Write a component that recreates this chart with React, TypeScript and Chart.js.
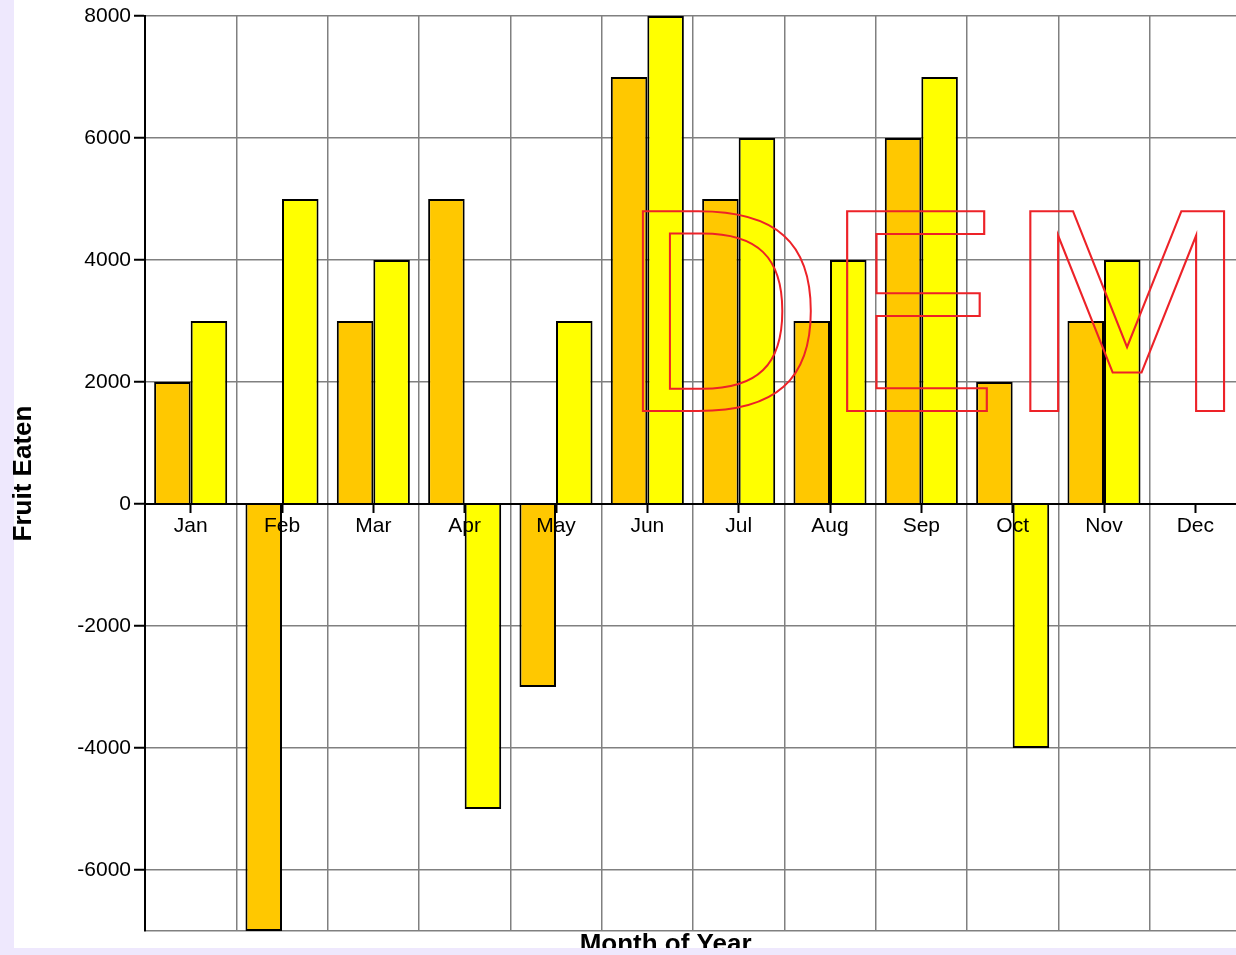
import React, { useEffect, useRef } from 'react';
import { Chart, registerables } from 'chart.js';

Chart.register(...registerables);

const months = ['Jan', 'Feb', 'Mar', 'Apr', 'May', 'Jun', 'Jul', 'Aug', 'Sep', 'Oct', 'Nov', 'Dec'];
const seriesOrange = [2000, -7000, 3000, 5000, -3000, 7000, 5000, 3000, 6000, 2000, 3000, null];
const seriesYellow = [3000, 5000, 4000, -5000, 3000, 8000, 6000, 4000, 7000, -4000, 4000, null];
const yMin = -7000;
const yMax = 8000;
const yTickValues = [-7000, -6000, -4000, -2000, 0, 2000, 4000, 6000, 8000];
const xTitle = 'Month of Year';
const yTitle = 'Fruit Eaten';
const watermarkLetters = ['D', 'E', 'M', 'O'];

const LAVENDER = '#EEE8FD';
const GRID = '#808080';
const FONT = '"Liberation Sans", Arial, sans-serif';

const decorPlugin = {
  id: 'decor',
  beforeDraw(chart: any) {
    const { ctx, width, height } = chart;
    ctx.save();
    ctx.fillStyle = LAVENDER;
    ctx.fillRect(0, 0, width, height);
    ctx.fillStyle = '#FFFFFF';
    ctx.fillRect(14, 0, width - 14, height - 7);
    ctx.restore();
  },
  afterDraw(chart: any) {
    const { ctx, chartArea, width, height } = chart;
    ctx.save();
    // watermark, letter by letter
    ctx.font = '274px "DejaVu Sans"';
    ctx.textBaseline = 'alphabetic';
    ctx.textAlign = 'left';
    ctx.strokeStyle = 'rgb(237,34,40)';
    ctx.lineWidth = 2;
    const scales = [1, 1.085, 1.06, 1.06];
    const gaps = [0, -9, -4, 0];
    const baseY = chartArea.top + 395;
    let x = chartArea.left + 471;
    watermarkLetters.forEach((ch, i) => {
      x += gaps[i];
      ctx.save();
      ctx.translate(x, baseY);
      ctx.scale(scales[i], 1);
      ctx.strokeText(ch, 0, 0);
      ctx.restore();
      x += ctx.measureText(ch).width * scales[i];
    });
    // x title
    ctx.font = 'bold 26px ' + FONT;
    ctx.fillStyle = '#000';
    ctx.textAlign = 'center';
    ctx.fillText(xTitle, chartArea.left + 0.475 * (chartArea.right - chartArea.left), chartArea.bottom + 21);
    // bottom lavender strip
    ctx.fillStyle = LAVENDER;
    ctx.fillRect(0, height - 7, width, 7);
    ctx.restore();
  },
};

export default function App() {
  const ref = useRef<HTMLCanvasElement | null>(null);

  useEffect(() => {
    if (!ref.current) return;
    const chart = new Chart(ref.current, {
      type: 'bar',
      data: {
        labels: months,
        datasets: [
          {
            label: 'A',
            data: seriesOrange,
            backgroundColor: '#FFC800',
            borderColor: '#000000',
            borderWidth: 2,
            categoryPercentage: 0.8,
            barPercentage: 1,
            xAxisID: 'x',
          },
          {
            label: 'B',
            data: seriesYellow,
            backgroundColor: '#FFFF00',
            borderColor: '#000000',
            borderWidth: 2,
            categoryPercentage: 0.8,
            barPercentage: 1,
            xAxisID: 'x',
          },
        ],
      },
      options: {
        responsive: false,
        animation: false,
        layout: { padding: { left: 0, top: 16, right: 9, bottom: 24 } },
        plugins: { legend: { display: false }, tooltip: { enabled: false } },
        scales: {
          x: {
            type: 'category',
            position: { y: 0 },
            offset: true,
            grid: { offset: true, color: GRID, lineWidth: 1.5, drawTicks: false },
            border: { display: true, color: '#000', width: 2, z: 1 },
            ticks: { display: false },
            afterFit: (s: any) => { s.height = 0; },
          },
          x2: {
            type: 'category',
            position: { y: 0 },
            offset: true,
            grid: { offset: false, drawOnChartArea: false, drawTicks: true, tickLength: 9, tickColor: '#000', tickWidth: 2 },
            border: { display: false },
            ticks: { color: '#000', font: { family: FONT, size: 21 }, padding: 1, maxRotation: 0, autoSkip: false, z: 1 },
            afterFit: (s: any) => { s.height = 0; },
          },
          y: {
            type: 'linear',
            min: yMin,
            max: yMax,
            afterBuildTicks: (s: any) => {
              s.ticks = yTickValues.map((v) => ({ value: v }));
            },
            ticks: {
              color: '#000',
              font: { family: FONT, size: 21 },
              padding: 3,
              callback: (v: any) => (v === yMin ? '' : String(v)),
            },
            grid: {
              color: (c: any) => (c.tick && c.tick.value === 0 ? '#000' : GRID),
              lineWidth: 1.5,
              tickLength: 11,
              tickColor: (c: any) => (c.tick && c.tick.value === yMin ? 'rgba(0,0,0,0)' : '#000'),
              tickWidth: 2,
            },
            border: { color: '#000', width: 2 },
            title: {
              display: true,
              text: yTitle,
              color: '#000',
              font: { family: FONT, size: 26, weight: 'bold' },
              padding: { top: 8, bottom: 0 },
            },
            afterFit: (s: any) => { s.width = 145; },
          },
        },
      },
      plugins: [decorPlugin],
    } as any);
    return () => chart.destroy();
  }, []);

  return (
    <div style={{ position: 'fixed', left: 0, top: 0, width: 1236, height: 955, overflow: 'hidden' }}>
      <canvas ref={ref} width={1250} height={955} style={{ display: 'block', width: 1250, height: 955 }} />
    </div>
  );
}
